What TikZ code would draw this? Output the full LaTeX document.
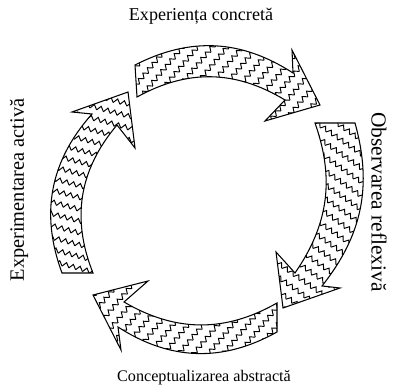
\documentclass[tikz,border=0pt]{standalone}
\usepackage{fontspec}
\setmainfont{Liberation Serif}
\usetikzlibrary{patterns.meta}
\tikzdeclarepattern{
  name=zigzag,
  parameters={\pgfkeysvalueof{/pgf/pattern keys/zzangle}},
  bounding box={(-0.5pt,-2pt) and (4.5pt,2pt)},
  tile size={(4pt,6.5pt)},
  tile transformation={rotate=\pgfkeysvalueof{/pgf/pattern keys/zzangle}},
  defaults={zzangle/.initial=0},
  code={
    \draw[line width=0.55pt] (0,-1.3pt) -- (2pt,1.3pt) -- (4pt,-1.3pt);
  }
}
\tikzstyle{phase}    = [font=\fontsize{10.3}{12}\selectfont, inner sep=0pt]
\tikzstyle{bigarrow} = [draw, line width=0.6pt]

\begin{document}
\begin{tikzpicture}[x=0.02cm, y=0.02cm]
  \useasboundingbox (0,0) rectangle (393,389);

  \node[phase] (concrete) at (201,373) {Experiența concretă};
  \node[phase, rotate=-90, font=\fontsize{12.2}{14}\selectfont] (reflexive) at (379,187) {Observarea reflexivă};
  \node[phase, font=\fontsize{9.2}{11}\selectfont] (abstract) at (204,11) {Conceptualizarea abstractă};
  \node[phase, rotate=90, font=\fontsize{11.6}{14}\selectfont] (active) at (19,199) {Experimentarea activă};

  % top
  \draw[bigarrow, pattern={zigzag[zzangle=50]}]
    (135,324) to[bend left=30] (293,316) -- (292,339) -- (320,284)
    -- (265,268) -- (285,289) to[bend right=30] (137,292) -- cycle;
  % right
  \draw[bigarrow, pattern={zigzag[zzangle=-35]}]
    (355,266) to[bend left=27] (322,103) -- (340,101) -- (283,81)
    -- (276,137) -- (295,116) to[bend right=27] (315,266) -- cycle;
  % bottom
  \draw[bigarrow, pattern={zigzag[zzangle=50]}]
    (277,57) to[bend left=31] (118,62) -- (121,39) -- (93,94)
    -- (148,108) -- (124,87) to[bend right=30] (277,86) -- cycle;
  % left
  \draw[bigarrow, pattern={zigzag[zzangle=-15]}]
    (62,116) to[bend left=31] (92,275) -- (72,277) -- (128,297)
    -- (135,241) -- (117,264) to[bend right=31] (93,116) -- cycle;
\end{tikzpicture}
\end{document}
